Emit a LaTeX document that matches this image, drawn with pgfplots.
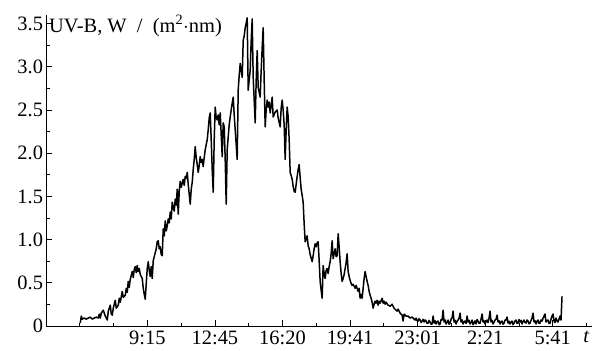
\documentclass[border=0pt]{standalone}
\usepackage{fontspec}
\setmainfont{Liberation Serif}
\usepackage{pgfplots}
\usepackage{pgfplotstable}
\pgfplotsset{compat=1.18}
\pgfplotstableread{
x y
34 0.034
35 0.115
36 0.080
38 0.092
40 0.080
42 0.092
44 0.103
46 0.080
48 0.092
50 0.103
52 0.092
53 0.138
54 0.092
55 0.149
57 0.183
59 0.115
61 0.069
62 0.172
64 0.241
65 0.138
66 0.126
67 0.206
69 0.298
70 0.206
72 0.241
73 0.321
74 0.275
76 0.401
77 0.333
79 0.356
80 0.436
81 0.390
82 0.516
83 0.447
84 0.539
86 0.631
87 0.562
88 0.654
89 0.688
90 0.619
91 0.700
92 0.631
93 0.665
94 0.596
96 0.550
97 0.436
98 0.367
99 0.310
100 0.493
101 0.665
102 0.745
103 0.642
104 0.573
105 0.688
106 0.550
107 0.757
108 0.803
110 0.894
111 0.975
112 0.986
113 0.894
114 0.917
115 0.826
116 0.814
117 1.124
118 1.044
119 1.216
120 1.101
121 1.158
122 1.239
123 1.193
124 1.319
125 1.239
126 1.433
127 1.376
128 1.330
129 1.468
130 1.399
131 1.583
132 1.296
133 1.560
134 1.674
135 1.606
136 1.651
137 1.697
138 1.628
139 1.732
140 1.709
141 1.778
142 1.640
143 1.525
144 1.411
145 1.583
146 1.663
147 1.812
148 1.927
149 2.076
150 1.950
151 1.869
152 1.778
153 1.858
154 1.961
155 1.892
156 1.927
157 1.846
158 1.950
159 2.041
160 2.099
161 2.156
162 2.271
163 2.408
164 2.466
165 2.156
166 1.812
167 1.548
168 2.156
169 2.534
170 2.408
171 2.385
172 2.443
173 2.328
174 2.466
175 2.213
176 1.961
177 2.351
178 2.305
179 1.927
180 1.411
181 2.041
182 2.190
183 2.328
184 2.420
185 2.500
186 2.580
187 2.649
188 2.443
189 2.271
190 2.099
191 1.927
192 2.729
193 2.901
194 3.039
195 2.959
196 2.878
197 3.303
198 3.360
199 3.452
200 3.509
201 3.567
202 2.729
203 2.844
204 2.959
205 3.303
206 3.555
207 2.878
208 2.615
209 2.351
210 2.844
211 3.188
212 2.764
213 2.706
214 2.649
215 2.959
216 3.222
217 3.452
218 2.844
219 2.305
220 2.500
221 2.615
222 2.534
223 2.592
224 2.466
225 2.557
226 2.649
227 2.420
229 2.477
231 2.500
232 2.408
234 2.305
235 2.523
236 2.615
237 2.500
238 2.328
239 1.927
240 2.271
241 2.534
242 2.420
243 2.156
244 1.778
245 1.743
246 1.697
247 1.617
248 1.560
249 1.548
250 1.640
251 1.732
252 1.812
253 1.869
254 1.720
255 1.583
256 1.514
257 1.433
258 1.181
259 0.975
260 1.009
261 1.044
262 0.929
263 0.894
264 0.826
266 0.745
267 0.814
268 0.894
269 0.952
270 0.917
271 0.963
272 0.975
273 0.757
274 0.516
275 0.413
276 0.321
277 0.700
278 0.608
279 0.550
280 0.642
281 0.665
282 0.608
283 0.688
284 0.745
285 0.837
286 0.986
287 0.780
288 0.837
289 0.894
290 0.803
291 0.814
292 1.067
293 0.917
294 0.745
295 0.608
296 0.516
297 0.550
298 0.596
299 0.665
300 0.734
301 0.837
302 0.631
303 0.573
304 0.528
305 0.493
306 0.470
307 0.482
309 0.436
310 0.470
312 0.401
313 0.436
314 0.321
315 0.367
316 0.321
317 0.436
318 0.550
319 0.631
320 0.573
321 0.516
322 0.470
323 0.401
324 0.356
325 0.321
326 0.275
327 0.206
328 0.252
329 0.287
330 0.264
331 0.298
332 0.241
333 0.287
334 0.264
336 0.321
337 0.264
338 0.287
339 0.252
340 0.275
342 0.241
344 0.229
346 0.252
348 0.206
350 0.183
351 0.172
352 0.195
354 0.149
356 0.126
357 0.057
358 0.138
360 0.115
362 0.115
364 0.092
366 0.103
368 0.080
369 0.069
370 0.092
371 0.060
372 0.057
373 0.085
374 0.069
375 0.040
376 0.057
377 0.078
378 0.046
379 0.070
380 0.057
381 0.030
382 0.034
383 0.065
384 0.046
385 0.020
386 0.023
387 0.115
388 0.034
389 0.060
390 0.023
391 0.050
392 0.057
393 0.015
394 0.023
395 0.075
396 0.069
397 0.183
398 0.046
399 0.070
400 0.023
401 0.045
402 0.069
403 0.020
404 0.034
405 0.080
406 0.092
407 0.172
408 0.046
409 0.065
410 0.023
411 0.055
412 0.069
413 0.090
414 0.149
415 0.046
416 0.070
417 0.023
418 0.050
419 0.057
420 0.030
421 0.115
422 0.046
423 0.065
424 0.023
425 0.040
426 0.069
427 0.015
428 0.034
429 0.060
430 0.023
431 0.075
432 0.057
433 0.030
434 0.034
435 0.080
436 0.138
437 0.046
438 0.060
439 0.023
440 0.050
441 0.069
442 0.040
443 0.092
444 0.172
445 0.046
446 0.065
447 0.023
448 0.045
449 0.069
450 0.080
451 0.126
452 0.046
453 0.060
454 0.023
455 0.050
456 0.057
457 0.020
458 0.034
459 0.070
460 0.069
461 0.103
462 0.034
463 0.055
464 0.023
465 0.045
466 0.057
467 0.015
468 0.034
469 0.060
470 0.069
471 0.030
472 0.034
473 0.075
474 0.046
475 0.065
476 0.023
477 0.050
478 0.069
479 0.040
480 0.034
481 0.070
482 0.057
483 0.025
484 0.034
485 0.065
486 0.092
487 0.149
488 0.046
489 0.060
490 0.023
491 0.055
492 0.069
493 0.030
494 0.034
495 0.070
496 0.057
497 0.090
498 0.115
499 0.138
500 0.046
501 0.065
502 0.069
503 0.030
504 0.034
505 0.080
506 0.115
507 0.138
508 0.057
509 0.040
510 0.092
511 0.060
512 0.046
513 0.080
514 0.115
515 0.069
516 0.344
}\uvb

\begin{document}
\fontsize{20.5}{24}\selectfont
\begin{tikzpicture}
\begin{axis}[name=ax, scale only axis, width=546bp, height=311bp,
 axis lines=left, axis line style={-, line width=0.8pt},
 xmin=-0.3, xmax=546, ymin=0, ymax=3.6,
 xtick={101.1,168.7,236.3,303.9,371.5,439.1,506.7},
 xticklabels={9:15,12:45,16:20,19:41,23:01,2:21,5:41},
 minor xtick={33.5,67.3,134.9,202.5,270.1,337.7,405.3,472.9,540.5},
 extra x ticks={540.5}, extra x tick labels={\textit{t}},
 extra x tick style={major tick length=0pt},
 ytick={0,0.5,1,1.5,2,2.5,3,3.5},
 yticklabels={0,0.5,1.0,1.5,2.0,2.5,3.0,3.5},
 minor ytick={0.25,0.75,1.25,1.75,2.25,2.75,3.25},
 tick align=inside,
 major tick length=6bp, minor tick length=3.5bp,
 tick style={line width=0.8pt, black},
 /pgf/number format/assume math mode=true,
 ticklabel style={font=\fontsize{20.5}{24}\selectfont},
 yticklabel style={xshift=4bp},
 xticklabel style={yshift=2bp},
]
\addplot[black, line width=1.5pt, line join=round] table[x=x,y=y]{\uvb};
\node[anchor=north west, inner sep=0pt, xshift=3bp] at (rel axis cs:0,1) {UV-B, W\enspace/\enspace(m\textsuperscript{2}$\cdot$nm)};
\end{axis}
\pgfresetboundingbox
\path ([shift={(-46bp,-25bp)}]ax.south west) rectangle ([shift={(2bp,15bp)}]ax.north east);
\end{tikzpicture}
\end{document}
